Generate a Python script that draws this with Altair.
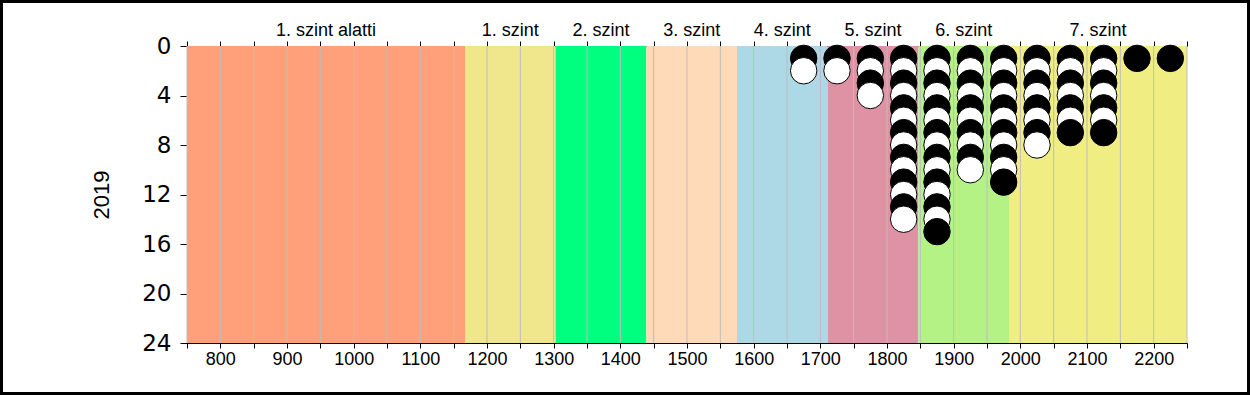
import altair as alt
import pandas as pd

# ---- data ----
levels = ["1. szint alatti", "1. szint", "2. szint", "3. szint", "4. szint",
          "5. szint", "6. szint", "7. szint"]
level_bounds = [750, 1167, 1303, 1439, 1575, 1711, 1847, 1983, 2250]
bin_centers = [1675, 1725, 1775, 1825, 1875, 1925, 1975, 2025, 2075, 2125, 2175, 2225]
bin_counts = [2, 2, 4, 14, 15, 10, 11, 8, 7, 7, 1, 1]
x_ticks = list(range(750, 2251, 50))
y_ticks = [0, 4, 8, 12, 16, 20, 24]
year_label = "2019"

# ---- styles ----
level_colors = ["#FFA07A", "#F0E68C", "#00FF7F", "#FFDAB9", "#ADD8E6",
                "#DE92A3", "#B5F285", "#F0EE82"]
FONT = "Liberation Sans"

band_df = pd.DataFrame({
    "level": levels,
    "start": level_bounds[:-1],
    "end": level_bounds[1:],
})
band_df["mid"] = (band_df["start"] + band_df["end"]) / 2

rows = []
for xc, n in zip(bin_centers, bin_counts):
    for k in range(1, n + 1):
        rows.append({"x": xc, "k": k, "shade": "fekete" if k % 2 == 1 else "fehér"})
dot_df = pd.DataFrame(rows)

grid_df = pd.DataFrame({"g": x_ticks})

xscale = alt.Scale(domain=[750, 2250], nice=False, zero=False)
yscale = alt.Scale(domain=[0, 24], nice=False, reverse=True, zero=False)

yaxis = alt.Axis(values=y_ticks, tickSize=7, tickColor="black", domainColor="black",
                 labelFontSize=23, labelFont="DejaVu Sans", labelColor="black", labelPadding=9,
                 grid=False, title=year_label, titleFont=FONT, titleFontSize=22,
                 titleFontWeight="normal", titleColor="black", titleX=-79, titleY=148.5,
                 titleAngle=270, titleAlign="center", titleBaseline="alphabetic")

bottom_axis = alt.Axis(orient="bottom", values=x_ticks, tickSize=5, tickColor="black",
                       domainColor="black", grid=False, labelFontSize=18, labelFont=FONT,
                       labelColor="black", labelPadding=2, labelFlush=False,
                       labelOverlap=False,
                       labelExpr="datum.value % 100 == 0 ? format(datum.value, 'd') : ''",
                       title=None)

top_axis = alt.Axis(orient="top", values=x_ticks, tickSize=5, tickColor="black",
                    domainColor="black", grid=False, labels=False, title=None)

Y0 = alt.Y(datum=0, scale=yscale, axis=yaxis, title=year_label)
Y24 = alt.Y2(datum=24)

bands = alt.Chart(band_df).mark_rect().encode(
    x=alt.X("start:Q", scale=xscale, axis=bottom_axis),
    x2="end:Q",
    y=Y0,
    y2=Y24,
    color=alt.Color("level:N", scale=alt.Scale(domain=levels, range=level_colors), legend=None),
)

grid = alt.Chart(grid_df).mark_rule(color="#BDBDBD", strokeWidth=1).encode(
    x=alt.X("g:Q", scale=xscale, axis=top_axis),
    y=Y0,
    y2=Y24,
)

dots = alt.Chart(dot_df).mark_circle(size=700, stroke="black", strokeWidth=1, opacity=1).encode(
    x=alt.X("x:Q", scale=xscale, axis=None),
    y=alt.Y("k:Q", scale=yscale, axis=yaxis, title=year_label),
    fill=alt.Fill("shade:N", scale=alt.Scale(domain=["fekete", "fehér"], range=["black", "white"]),
                  legend=None),
)

labels = alt.Chart(band_df).mark_text(fontSize=18, font=FONT, color="black",
                                      baseline="alphabetic", align="center").encode(
    x=alt.X("mid:Q", scale=xscale, axis=None),
    y=alt.value(-10),
    text="level:N",
)

frame = alt.Chart(pd.DataFrame({"a": [0]})).mark_rect(
    fillOpacity=0, stroke="black", strokeWidth=3).encode(
    x=alt.value(-185.5), x2=alt.value(1061.5), y=alt.value(-44.5), y2=alt.value(347.5)
)

chart = alt.layer(bands, grid, dots, labels, frame).resolve_axis(x="independent").properties(
    width=1000, height=297,
    autosize=alt.AutoSizeParams(type="none"),
    padding={"left": 187, "top": 46, "right": 63, "bottom": 52},
    background="white",
).configure_view(stroke=None)

chart.save("out.html", embed_options={"renderer": "svg", "actions": False})
